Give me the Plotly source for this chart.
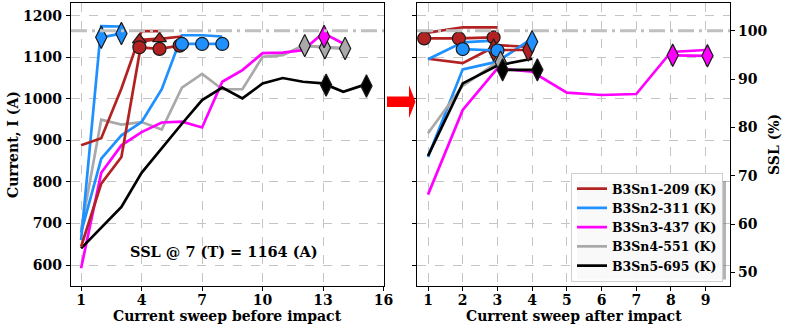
import plotly.graph_objects as go

SSL = 1164  # short-sample limit current (A) at 7 T

# ---------------- data: before impact (current, A) ----------------
sn1_b_line_a = [888, 905, 1025, 1163, 1163]
sn1_b_line_b = [644, 796, 860, 1138, 1145, 1150]
sn1_b_tri_x = [4, 5]
sn1_b_tri = [1142, 1145]
sn1_b_circ_x = [4, 5, 6]
sn1_b_circ = [1124, 1120, 1128]

sn2_b_line_a = [660, 1175, 1174]
sn2_b_dia_x = [2, 3]
sn2_b_dia = [1148, 1157]
sn2_b_line_b = [678, 856, 912, 944, 1023, 1153, 1153, 1150]
sn2_b_circ_x = [6, 7, 8]
sn2_b_circ = [1132, 1132, 1132]

sn3_b_line = [592, 822, 888, 920, 943, 945, 931, 1041, 1069, 1110, 1111, 1117, 1158, 1133]
sn3_b_dia_x = [13]
sn3_b_dia = [1150]

sn4_b_line = [685, 950, 938, 944, 926, 1027, 1060, 1023, 1023, 1101, 1105, 1128, 1125, 1122]
sn4_b_dia_x = [12, 13, 14]
sn4_b_dia = [1128, 1123, 1121]

sn5_b_line = [640, 690, 740, 822, 882, 940, 997, 1027, 1001, 1037, 1050, 1041, 1037, 1017, 1033]
sn5_b_dia_x = [13, 15]
sn5_b_dia = [1033, 1031]

# ---------------- data: after impact (SSL, %) ----------------
sn1_a_line_a = [99.6, 100.7, 100.7]
sn1_a_circ_x = [1, 2, 3]
sn1_a_circ = [98.4, 98.4, 98.6]
sn1_a_line_b = [94.2, 93.3, 97.0, 96.6]
sn1_a_dia_x = [3, 4]
sn1_a_dia = [96.0, 96.0]

sn2_a_line_a = [94.1, 97.6, 98.0]
sn2_a_circ_x = [2, 3]
sn2_a_circ = [96.2, 95.9]
sn2_a_line_b = [73.9, 92.0, 93.6, 98.4]
sn2_a_dia_x = [4]
sn2_a_dia = [97.7]

sn3_a_line = [66.1, 83.6, 92.2, 91.5, 87.2, 86.7, 86.9, 95.6, 96.0]
sn3_a_dia_x = [8, 9]
sn3_a_dia = [94.9, 94.8]

sn4_a_line = [78.8, 88.6, 93.5]
sn4_a_dia_x = [3]
sn4_a_dia = [93.5]

sn5_a_line = [74.1, 89.1, 92.8, 94.2]
sn5_a_dia_x = [3, 4]
sn5_a_dia = [91.9, 91.9]

names = ["B3Sn1-209 (K)", "B3Sn2-311 (K)", "B3Sn3-437 (K)", "B3Sn4-551 (K)", "B3Sn5-695 (K)"]
before_ticks = [1, 4, 7, 10, 13, 16]
after_ticks = [1, 2, 3, 4, 5, 6, 7, 8, 9]
current_ticks = [600, 700, 800, 900, 1000, 1100, 1200]
ssl_ticks = [50, 60, 70, 80, 90, 100]

# ---------------- styles ----------------
colors = ["#b22222", "#1e90ff", "#ff00ff", "#a9a9a9", "#000000"]
mk_off = [-0.11, 0.0, 0.05, 0.09, 0.15]
LW = 2.7
FONT = "DejaVu Serif"
Y_RANGE = [549.5, 1230.6]
Y3_RANGE = [v / SSL * 100 for v in Y_RANGE]

fig = go.Figure()


def line(x, y, i, xa="x", ya="y", legend=False):
    fig.add_trace(go.Scatter(x=x, y=y, mode="lines", xaxis=xa, yaxis=ya,
                             line=dict(color=colors[i], width=LW),
                             name=names[i], showlegend=legend, legendrank=i))


def marks(x, y, i, symbol, size, xa="x", ya="y", connect=True):
    fig.add_trace(go.Scatter(x=[v + mk_off[i] for v in x], y=y,
                             mode="lines+markers" if connect else "markers",
                             xaxis=xa, yaxis=ya,
                             line=dict(color=colors[i], width=LW),
                             marker=dict(symbol=symbol, size=size, color=colors[i],
                                         line=dict(color="#1a1a1a", width=1.2)),
                             showlegend=False))


def rng(n):
    return list(range(1, n + 1))


# ---- before impact ----
line(rng(len(sn4_b_line)), sn4_b_line, 3)
line(rng(len(sn3_b_line)), sn3_b_line, 2)
line(rng(len(sn5_b_line)), sn5_b_line, 4)
line(rng(len(sn2_b_line_b)), sn2_b_line_b, 1)
line(rng(len(sn2_b_line_a)), sn2_b_line_a, 1)
line(rng(len(sn1_b_line_a)), sn1_b_line_a, 0)
line(rng(len(sn1_b_line_b)), sn1_b_line_b, 0)
marks(sn1_b_tri_x, sn1_b_tri, 0, "triangle-up", 12)
marks(sn1_b_circ_x, sn1_b_circ, 0, "circle", 13)
marks(sn2_b_dia_x, sn2_b_dia, 1, "diamond-tall", 16)
marks(sn2_b_circ_x, sn2_b_circ, 1, "circle", 13)
marks(sn4_b_dia_x, sn4_b_dia, 3, "diamond-tall", 16)
marks(sn3_b_dia_x, sn3_b_dia, 2, "diamond-tall", 16)
marks(sn5_b_dia_x, sn5_b_dia, 4, "diamond-tall", 16, connect=False)

# ---- after impact ----
line(rng(len(sn1_a_line_a)), sn1_a_line_a, 0, "x2", "y3", True)
line(rng(len(sn1_a_line_b)), sn1_a_line_b, 0, "x2", "y3")
line(rng(len(sn2_a_line_a)), sn2_a_line_a, 1, "x2", "y3", True)
line(rng(len(sn2_a_line_b)), sn2_a_line_b, 1, "x2", "y3")
line(rng(len(sn3_a_line)), sn3_a_line, 2, "x2", "y3", True)
line(rng(len(sn4_a_line)), sn4_a_line, 3, "x2", "y3", True)
line(rng(len(sn5_a_line)), sn5_a_line, 4, "x2", "y3", True)
marks(sn1_a_circ_x, sn1_a_circ, 0, "circle", 13, "x2", "y3")
marks(sn1_a_dia_x, sn1_a_dia, 0, "diamond-tall", 16, "x2", "y3")
marks(sn2_a_circ_x, sn2_a_circ, 1, "circle", 13, "x2", "y3")
marks(sn2_a_dia_x, sn2_a_dia, 1, "diamond-tall", 16, "x2", "y3")
marks(sn3_a_dia_x, sn3_a_dia, 2, "diamond-tall", 16, "x2", "y3")
marks(sn4_a_dia_x, sn4_a_dia, 3, "diamond-tall", 16, "x2", "y3")
marks(sn5_a_dia_x, sn5_a_dia, 4, "diamond-tall", 16, "x2", "y3")

tickfont = dict(family=FONT, size=14, color="black", weight="bold")
titlefont = dict(family=FONT, size=14, color="black", weight="bold")
axis_common = dict(showline=True, linecolor="black", linewidth=1.3, mirror=True,
                   ticks="outside", ticklen=4, tickwidth=1.2, tickcolor="black",
                   tickfont=tickfont, showgrid=True, gridcolor="#c4c4c4",
                   griddash="dash", gridwidth=1, zeroline=False, automargin=False)

L, R, T, B = 71, 56, 3, 41
W, H = 786, 327
pw = W - L - R
ph = H - T - B
d1 = (384 - L) / pw
d2 = (417 - L) / pw


def px(xp):
    return (xp - L) / pw


def py(yp):
    return (H - B - yp) / ph


fig.update_layout(
    width=W, height=H, margin=dict(l=L, r=R, t=T, b=B, autoexpand=False),
    plot_bgcolor="white", paper_bgcolor="white",
    xaxis=dict(domain=[0, d1], range=[0.5, 16.02], tickvals=before_ticks,
               ticklabelstandoff=-3, **axis_common),
    yaxis=dict(range=Y_RANGE, tickvals=current_ticks, ticklabelstandoff=1, **axis_common),
    xaxis2=dict(domain=[d2, 1], range=[0.683, 9.70], tickvals=after_ticks, anchor="y2",
                ticklabelstandoff=-3, **axis_common),
    yaxis2=dict(range=Y_RANGE, tickvals=current_ticks, anchor="x2", showticklabels=False,
                **axis_common),
    yaxis3=dict(range=Y3_RANGE, tickvals=ssl_ticks, overlaying="y2", side="right",
                anchor="x2", showline=True, linecolor="black", linewidth=1.3,
                ticks="outside", ticklen=4, tickwidth=1.2, tickcolor="black",
                tickfont=tickfont, showgrid=False, zeroline=False, automargin=False),
    legend=dict(x=px(723), xanchor="right", y=py(282), yanchor="bottom",
                bgcolor="rgba(255,255,255,0.92)", bordercolor="#cfcfcf", borderwidth=1,
                font=dict(family=FONT, size=12.5, color="black", weight="bold"),
                traceorder="normal", tracegroupgap=0, itemwidth=30),
    showlegend=True,
)

# axis titles as annotations (precise placement)
ann = dict(xref="paper", yref="paper", showarrow=False, font=titlefont,
           xanchor="center", yanchor="middle")
fig.add_annotation(text="Current, I (A)", x=px(12.5), y=py(144.5), textangle=-90, **ann)
fig.add_annotation(text="Current sweep before impact", x=px(227.5), y=py(315.5), **ann)
fig.add_annotation(text="Current sweep after impact", x=px(573.5), y=py(315.5), **ann)
fig.add_annotation(text="SSL (%)", x=px(774), y=py(145), textangle=-90, **ann)

# SSL reference lines (dash-dot)
for xr, yr in (("x domain", "y"), ("x2 domain", "y2")):
    fig.add_shape(type="line", xref=xr, yref=yr, x0=0, x1=1, y0=SSL, y1=SSL,
                  line=dict(color="#c0c0c0", width=3, dash="16px,5px,3px,5px"),
                  layer="above")

# legend shadow
fig.add_shape(type="rect", xref="paper", yref="paper",
              x0=px(577), x1=px(726), y0=py(279.5), y1=py(181),
              fillcolor="rgba(120,120,120,0.55)", line=dict(width=0), layer="above")

# red arrow between the panels
pts = [(387, 96.5), (409, 96.5), (409, 85), (415.5, 101.7), (409, 118.3), (409, 107), (387, 107)]
path = "M " + " L ".join(f"{px(a):.5f},{py(b):.5f}" for a, b in pts) + " Z"
fig.add_shape(type="path", xref="paper", yref="paper", path=path,
              fillcolor="#ff0000", line=dict(width=0), layer="above")

fig.add_annotation(text=f"SSL @ 7 (T) = {SSL} (A)", xref="x domain", yref="y domain",
                   x=(223.5 - L) / (384 - L), y=(H - B - 251) / ph, showarrow=False,
                   xanchor="center", yanchor="middle",
                   font=dict(family=FONT, size=14.5, color="black", weight="bold"))

fig.write_html("out.html", config={"displayModeBar": False},
               post_script="document.body.style.margin='0';document.body.style.padding='0';")
